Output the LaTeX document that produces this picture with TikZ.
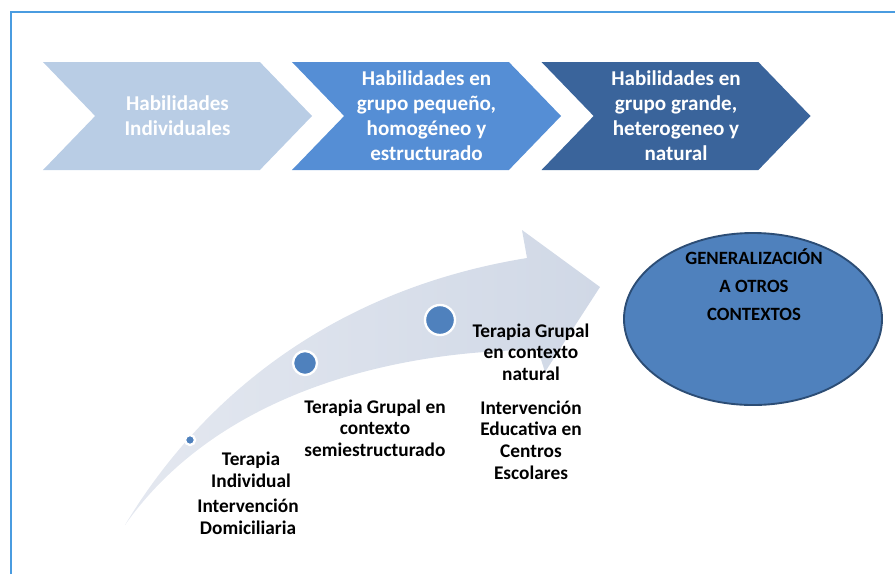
\documentclass[tikz,border=0pt]{standalone}
\usepackage{fontspec}
\setmainfont{Carlito}
\usepackage{tikz}
\usetikzlibrary{shapes.geometric, shapes.symbols, positioning}
\definecolor{framecolor}{RGB}{74, 156, 224}
\definecolor{stageone}{RGB}{185, 205, 229}
\definecolor{stagetwo}{RGB}{85, 142, 213}
\definecolor{stagethree}{RGB}{58, 100, 155}
\definecolor{arrowlight}{RGB}{228, 232, 240}
\definecolor{arrowdark}{RGB}{208, 216, 230}
\definecolor{dotcolor}{RGB}{79, 129, 189}
\definecolor{goalborder}{RGB}{44, 77, 117}

\begin{document}
\begin{tikzpicture}[
    x=0.03cm, y=-0.03cm,
    stage/.style={shape=signal, signal from=west, signal to=east, signal pointer angle=92, minimum width=8.07cm, minimum height=3.24cm, inner sep=0pt, text=white, font=\fontsize{18}{21.3}\selectfont\bfseries, align=center},
    goal/.style={draw=goalborder, line width=1.6pt, fill=dotcolor, ellipse, minimum width=7.74cm, minimum height=5.16cm},
    step label/.style={font=\fontsize{16.5}{18.5}\selectfont\bfseries, align=center, inner sep=0pt},
    dot/.style={circle, fill=dotcolor, draw=white, line width=2pt, inner sep=0pt}
]
    \useasboundingbox (0,0) rectangle (895,574);

    % Frame
    \draw[framecolor, line width=1.6pt] (11,574) -- (11,12) -- (895,12);

    % Stages (top)
    \node[stage, fill=stageone] (individual) at (177.5,116) {Habilidades\\Individuales};
    \node[stage, fill=stagetwo] (small) at (426.5,116) {Habilidades en\\grupo pequeño,\\homogéneo y\\estructurado};
    \node[stage, fill=stagethree] (large) at (676,116) {Habilidades en\\grupo grande,\\heterogeneo y\\natural};

    % Curved arrow
    \shade[left color=arrowlight, right color=arrowdark]
        (125,525) .. controls (200,400) and (330,290) .. (527,258)
        -- (522,230) -- (600,287) -- (545,372) -- (538,350)
        .. controls (400,350) and (220,390) .. (125,525) -- cycle;

    % Steps along the arrow
    \node[dot, minimum size=0.3cm] (dotA) at (190,440) {};
    \node[dot, minimum size=0.72cm] (dotB) at (305,363) {};
    \node[dot, minimum size=0.9cm] (dotC) at (440,320) {};

    \node[step label] (indiv) at (251,470) {Terapia\\Individual};
    \node[step label] (home) at (248,517) {Intervención\\Domiciliaria};
    \node[step label] (semi) at (375,428) {Terapia Grupal en\\contexto\\semiestructurado};
    \node[step label] (natural) at (531,352) {Terapia Grupal\\en contexto\\natural};
    \node[step label] (school) at (531,440) {Intervención\\Educativa en\\Centros\\Escolares};

    % Goal
    \node[goal] (goal) at (753,319) {};
    \node[font=\fontsize{16}{24}\selectfont\bfseries, align=center] (goaltext) at (754,285) {GENERALIZACIÓN\\A OTROS\\CONTEXTOS};

\end{tikzpicture}
\end{document}
